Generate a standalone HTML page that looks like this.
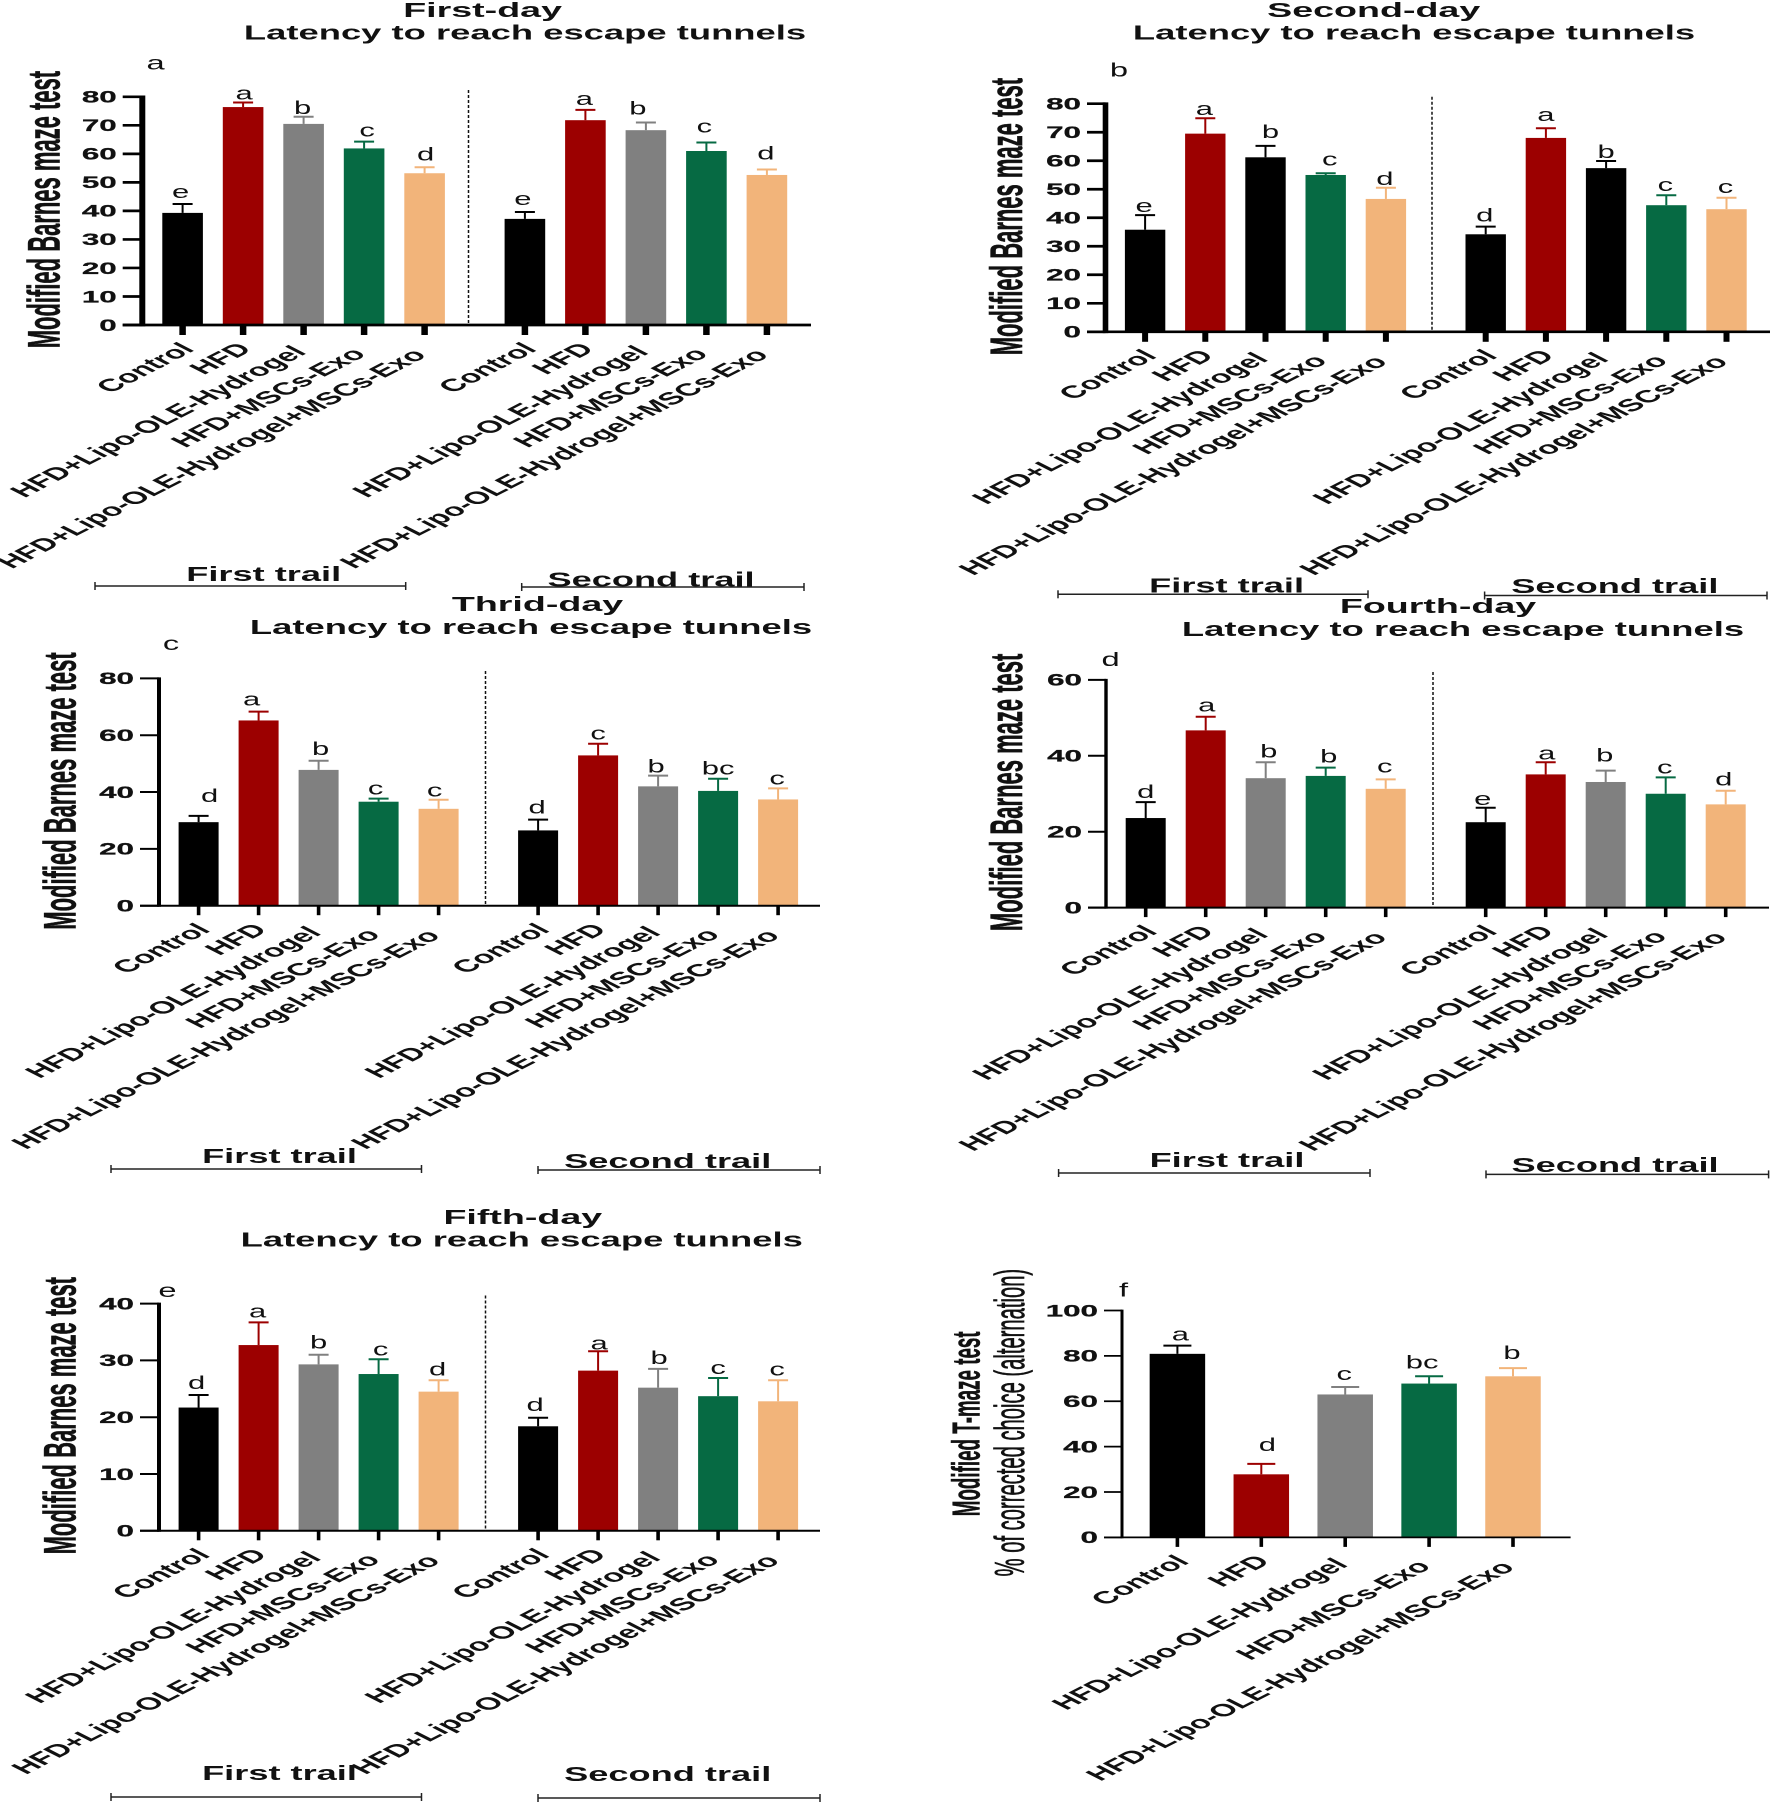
<!DOCTYPE html>
<html lang="en">
<head>
<meta charset="utf-8">
<title>Modified Barnes maze and T-maze results</title>
<style>
html,body{margin:0;padding:0;background:#fff;width:1772px;height:1806px;overflow:hidden}
svg{display:block}
text{font-family:"Liberation Sans",Arial,sans-serif;fill:#111}
</style>
</head>
<body>
<svg id="figure" xmlns="http://www.w3.org/2000/svg" width="1772" height="1806" viewBox="0 0 1772 1806"></svg>
<script>
// ---------- shared categories ----------
const categories = ["Control", "HFD", "HFD+Lipo-OLE-Hydrogel", "HFD+MSCs-Exo", "HFD+Lipo-OLE-Hydrogel+MSCs-Exo"];

// ---------- panel a: First-day ----------
const ticksA = [0, 10, 20, 30, 40, 50, 60, 70, 80];
const meansA = [39.3, 76.4, 70.5, 61.9, 53.2, 37.2, 71.8, 68.3, 61.0, 52.6];
const upperA = [42.4, 78.0, 73.0, 64.3, 55.3, 39.6, 75.4, 71.0, 64.0, 54.5];
const lettersA = ["e", "a", "b", "c", "d", "e", "a", "b", "c", "d"];

// ---------- panel b: Second-day ----------
const ticksB = [0, 10, 20, 30, 40, 50, 60, 70, 80];
const meansB = [35.8, 69.5, 61.2, 55.0, 46.6, 34.2, 68.0, 57.4, 44.4, 43.0];
const upperB = [40.9, 74.9, 65.2, 55.6, 50.5, 36.9, 71.4, 59.9, 47.9, 47.0];
const lettersB = ["e", "a", "b", "c", "d", "d", "a", "b", "c", "c"];

// ---------- panel c: Thrid-day ----------
const ticksC = [0, 20, 40, 60, 80];
const meansC = [29.4, 65.2, 47.8, 36.6, 34.1, 26.5, 52.9, 42.0, 40.4, 37.4];
const upperC = [31.6, 68.3, 51.0, 37.7, 37.3, 30.3, 57.0, 45.8, 44.7, 41.3];
const lettersC = ["d", "a", "b", "c", "c", "d", "c", "b", "bc", "c"];

// ---------- panel d: Fourth-day ----------
const ticksD = [0, 20, 40, 60];
const meansD = [23.6, 46.7, 34.1, 34.7, 31.3, 22.5, 35.1, 33.1, 30.0, 27.2];
const upperD = [27.8, 50.3, 38.3, 36.9, 33.8, 26.3, 38.3, 36.1, 34.3, 30.8];
const lettersD = ["d", "a", "b", "b", "c", "e", "a", "b", "c", "d"];

// ---------- panel e: Fifth-day ----------
const ticksE = [0, 10, 20, 30, 40];
const meansE = [21.7, 32.7, 29.3, 27.6, 24.5, 18.4, 28.2, 25.2, 23.7, 22.8];
const upperE = [23.9, 36.7, 31.0, 30.2, 26.5, 19.9, 31.6, 28.5, 26.9, 26.5];
const lettersE = ["d", "a", "b", "c", "d", "d", "a", "b", "c", "c"];

// ---------- panel f: T-maze ----------
const ticksF = [0, 20, 40, 60, 80, 100];
const meansF = [80.9, 27.8, 63.0, 67.8, 71.0];
const upperF = [84.5, 32.4, 66.3, 71.0, 74.6];
const lettersF = ["a", "d", "c", "bc", "b"];

// ---------- colours ----------
const RED = "#9c0000", GREY = "#808080", GREEN = "#066a43", PEACH = "#f2b47a", BLACK = "#000000";
const paletteStd = [BLACK, RED, GREY, GREEN, PEACH];
const paletteB = [BLACK, RED, BLACK, GREEN, PEACH];

// ---------- drawing ----------
const SVGNS = "http://www.w3.org/2000/svg";
const root = document.getElementById("figure");
const KX = 1.95;
const LABEL_DX = [13, 10, 4, 3, 3];
const LABEL_DY = [25, 25, 28, 30, 31];

function mk(tag, parent) {
  const el = document.createElementNS(SVGNS, tag);
  parent.appendChild(el);
  return el;
}
function rect(parent, x, y, w, h, fill) {
  const el = mk("rect", parent);
  el.setAttribute("x", x); el.setAttribute("y", y);
  el.setAttribute("width", w); el.setAttribute("height", h);
  el.setAttribute("fill", fill);
  return el;
}
function seg(parent, x1, y1, x2, y2, color, sw) {
  const el = mk("line", parent);
  el.setAttribute("x1", x1); el.setAttribute("y1", y1);
  el.setAttribute("x2", x2); el.setAttribute("y2", y2);
  el.setAttribute("stroke", color); el.setAttribute("stroke-width", sw);
  return el;
}
function label(parent, str, x, y, size, weight, anchor, rot, kx, stroke) {
  const el = mk("text", parent);
  el.textContent = str;
  el.setAttribute("font-size", size);
  el.setAttribute("font-weight", weight);
  el.setAttribute("text-anchor", anchor);
  if (stroke) {
    el.setAttribute("stroke", "#111");
    el.setAttribute("stroke-width", stroke);
  }
  el.setAttribute("transform", "translate(" + x + "," + y + ") scale(" + (kx || KX) + ",1)" + (rot ? " rotate(" + rot + ")" : ""));
  return el;
}

function drawPanel(p) {
  const g = mk("g", root);
  
  

  const maxV = p.ticks[p.ticks.length - 1];
  const yAt = v => p.base - (v / maxV) * (p.base - p.top);
  const xAt = i => p.x0 + i * p.step + (i >= 5 ? p.gap : 0);
  const capW = p.capW || 20;

  // bars and error bars
  p.means.forEach((m, i) => {
    const c = p.colors[i % 5];
    const cat = categories[i % 5];
    const group = i >= 5 ? "second" : "first";
    const bar = rect(g, xAt(i) - p.barW / 2, yAt(m), p.barW, p.base - yAt(m), c);
    
    
    const stem = seg(g, xAt(i), yAt(m), xAt(i), yAt(p.upper[i]), c, 2);
    
    
    const cap = seg(g, xAt(i) - capW / 2, yAt(p.upper[i]), xAt(i) + capW / 2, yAt(p.upper[i]), c, 2);
    
    
    const sig = label(g, p.letters[i], xAt(i) + p.nudge[i], yAt(p.upper[i]) - p.lift[i], 18, 400, "middle", 0, 1.72);
    
    
    const cl = label(g, cat, xAt(i) + LABEL_DX[i % 5], p.base + LABEL_DY[i % 5], 17.4, 700, "end", -45);
    
    
    const xt = seg(g, xAt(i), p.base, xAt(i), p.base + p.tickLen, "#000", p.xTickW);
    
    
  });

  // y ticks
  p.ticks.forEach(t => {
    const yt = seg(g, p.axisX - p.yTickLen, yAt(t), p.axisX, yAt(t), "#000", p.baseW);
    
    
    const tl = label(g, String(t), p.axisX - p.yTickLen - 6, yAt(t) + 5.8, 16.5, 700, "end", 0, 1.9, 0.25);
    
    
  });

  // axes
  const ya = seg(g, p.axisX, p.top - p.baseW / 2, p.axisX, p.base + p.baseW / 2, "#000", p.axisW);
  
  
  const xa = seg(g, p.axisX - p.yTickLen, p.base, p.axisEnd, p.base, "#000", p.baseW);
  
  

  // divider
  if (p.divX) {
    const dv = seg(g, p.divX, p.divTop, p.divX, p.base, "#111", 1.5);
    dv.setAttribute("stroke-dasharray", "3 2");
    
    
  }

  // titles
  if (p.title) {
    const t1 = label(g, p.title[0], p.title[1], p.title[2], 20, 700, "middle", 0, 1.88);
    
    
    const t2 = label(g, "Latency to reach escape tunnels", p.title[3], p.title[4], 20, 700, "middle", 0, 1.82);
    
    
  }

  // panel letter
  const pl = label(g, p.panel[0], p.panel[1], p.panel[2], 19, 400, "middle", 0, 1.72);
  
  

  // y titles
  p.yTitles.forEach(y => {
    const yl = label(g, y[0], y[1], y[2], y[3], y[4], "middle", -90, 2.05, y[5]);
    
    
  });

  // group brackets
  (p.brackets || []).forEach(b => {
    const bt = label(g, b[0], b[1], b[2], 20, 700, "middle", 0, 1.81);
    
    
    const bl = seg(g, b[3], b[5], b[4], b[5], "#222", 1.5);
    
    
    const bc1 = seg(g, b[3], b[5] - 4, b[3], b[5] + 4, "#222", 1.5);
    
    
    const bc2 = seg(g, b[4], b[5] - 4, b[4], b[5] + 4, "#222", 1.5);
    
    
  });
}

const BARNES = "Modified Barnes maze test";

drawPanel({
  name: "panel-a-first-day", ticks: ticksA, means: meansA, upper: upperA, letters: lettersA, colors: paletteStd,
  base: 325, top: 96.8, x0: 182.6, step: 60.5, gap: 39.8, barW: 40.6,
  axisX: 142.3, axisW: 6, baseW: 2.7, yTickLen: 19.6, axisEnd: 811, tickLen: 10, xTickW: 6.5,
  divX: 468.5, divTop: 90,
  lift: [6, 3, 3, 5, 7, 7, 5, 8, 10, 10], nudge: [-2, 1, -1, 3, 1, -2, -1, -8, -2, -1],
  title: ["First-day", 482.6, 17, 525, 39.4], panel: ["a", 155.6, 69.7],
  yTitles: [[BARNES, 59.4, 209.6, 22, 700, 0.3]],
  brackets: [["First trail", 263.7, 581, 95, 405.7, 586], ["Second trail", 651, 586.7, 521.7, 804, 587]]
});

drawPanel({
  name: "panel-b-second-day", ticks: ticksB, means: meansB, upper: upperB, letters: lettersB, colors: paletteB,
  base: 331.8, top: 103.7, x0: 1145.1, step: 60.2, gap: 39.6, barW: 40.4,
  axisX: 1105.5, axisW: 5.6, baseW: 2.7, yTickLen: 18.5, axisEnd: 1770, tickLen: 10, xTickW: 6,
  divX: 1432, divTop: 96.8,
  lift: [3, 3, 8, 8, 3, 5, 7, 3, 4, 5], nudge: [-1, -1, 5, 4, -1, -1, 0, 0, -1, -1],
  title: ["Second-day", 1373.7, 17, 1414, 39.4], panel: ["b", 1119, 76.5],
  yTitles: [[BARNES, 1021.8, 216.6, 22, 700, 0.3]],
  brackets: [["First trail", 1226.6, 592.4, 1058, 1368, 594.3], ["Second trail", 1614.8, 593, 1484.6, 1767, 595.5]]
});

drawPanel({
  name: "panel-c-third-day", ticks: ticksC, means: meansC, upper: upperC, letters: lettersC, colors: paletteStd,
  base: 905.7, top: 678.4, x0: 198.6, step: 60, gap: 39.5, barW: 40,
  axisX: 159, axisW: 4, baseW: 2, yTickLen: 19, axisEnd: 820, tickLen: 9.5, xTickW: 3.6,
  divX: 485.5, divTop: 671,
  lift: [14, 6, 6, 4, 3, 6, 4, 3, 4, 4], nudge: [11, -7, 2, -3, -4, -1, 0, -2, 0, -1],
  title: ["Thrid-day", 537.5, 611, 531, 634], panel: ["c", 171, 650],
  yTitles: [[BARNES, 75.5, 791, 22, 700, 0.3]],
  brackets: [["First trail", 279.5, 1163, 111, 421.5, 1169], ["Second trail", 667.7, 1168, 538, 820, 1170]]
});

drawPanel({
  name: "panel-d-fourth-day", ticks: ticksD, means: meansD, upper: upperD, letters: lettersD, colors: paletteStd,
  base: 907.6, top: 679.9, x0: 1145.7, step: 60, gap: 40, barW: 40,
  axisX: 1106, axisW: 3.4, baseW: 2, yTickLen: 18, axisEnd: 1769, tickLen: 9.5, xTickW: 3.6,
  divX: 1433, divTop: 672,
  lift: [4, 5, 5, 5, 7, 3, 3, 9, 4, 5], nudge: [0, 1, 3, 3, -1, -3, 1, -1, -1, -2],
  title: ["Fourth-day", 1438, 613, 1463, 636], panel: ["d", 1110.6, 665.8],
  yTitles: [[BARNES, 1022, 792.4, 22, 700, 0.3]],
  brackets: [["First trail", 1227, 1167, 1058.6, 1370, 1173], ["Second trail", 1615, 1172, 1486, 1768.6, 1174.4]]
});

drawPanel({
  name: "panel-e-fifth-day", ticks: ticksE, means: meansE, upper: upperE, letters: lettersE, colors: paletteStd,
  base: 1530.8, top: 1303.6, x0: 198.6, step: 60, gap: 39.5, barW: 40,
  axisX: 159, axisW: 4, baseW: 2, yTickLen: 19, axisEnd: 820, tickLen: 9.5, xTickW: 3.6,
  divX: 485.5, divTop: 1295.5,
  lift: [6, 5, 6, 4, 5, 7, 2, 5, 4, 5], nudge: [-2, -1, 0, 2, -1, -3, 1, 1, 0, -1],
  title: ["Fifth-day", 522.8, 1224, 521.7, 1246.4], panel: ["e", 167.5, 1297],
  yTitles: [[BARNES, 75.5, 1415.7, 22, 700, 0.3]],
  brackets: [["First trail", 279.5, 1779.8, 111, 421.5, 1797], ["Second trail", 667.7, 1781, 538, 820, 1798]]
});

drawPanel({
  name: "panel-f-t-maze", ticks: ticksF, means: meansF, upper: upperF, letters: lettersF, colors: paletteStd,
  base: 1537.4, top: 1310.5, x0: 1177.4, step: 83.9, gap: 0, barW: 55.5, capW: 28,
  axisX: 1122, axisW: 3, baseW: 1.8, yTickLen: 18, axisEnd: 1570.6, tickLen: 9.5, xTickW: 3.6,
  lift: [5, 13, 7, 8, 9], nudge: [3, 6, -1, -7, -1],
  panel: ["f", 1123.6, 1296.6],
  yTitles: [["Modified T-maze test", 979.4, 1423.8, 18.8, 700, 0.25], ["% of corrected choice (alternation)", 1024, 1422.6, 20.2, 400, 0.35]]
});
</script>
</body>
</html>
